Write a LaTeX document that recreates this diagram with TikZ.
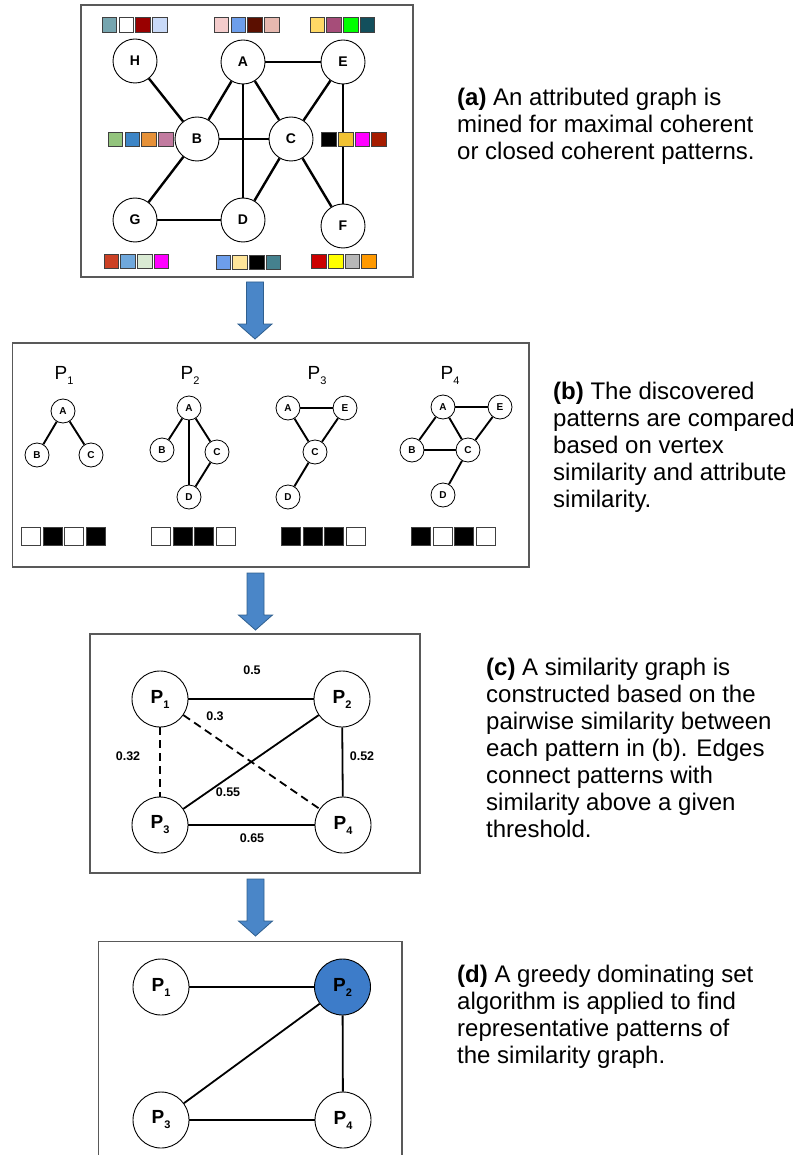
\documentclass[tikz,border=0pt]{standalone}
\usepackage{fontspec}
\setmainfont{Liberation Sans}

\definecolor{framegray}{HTML}{595959}
\definecolor{arrowblue}{HTML}{4A86C8}
\definecolor{arrowedge}{HTML}{2F5F8F}
\definecolor{domblue}{HTML}{3D7CC9}

% a row of colour swatches: left x, top y, width, height, step, list of HTML colours
\newcommand\swatchrow[6]{%
  \foreach \c [count=\i from 0] in {#6} {
    \definecolor{swatchfill}{HTML}{\c}
    \filldraw[swatch, fill=swatchfill] ({#1+\i*#5},#2) rectangle ++(#3,#4);
  }}

% a downward block arrow: centre x, shaft top, head base, tip
\newcommand\blockarrow[4]{%
  \filldraw[downarrow] ({#1-8.5},#2) -- ({#1+8.5},#2) -- ({#1+8.5},#3) -- ({#1+17},#3)
    -- (#1,#4) -- ({#1-17},#3) -- ({#1-8.5},#3) -- cycle;}

% pattern name with a lowered index
\newcommand\pname[1]{P\raisebox{-5pt}{\fontsize{11}{11}\selectfont #1}}

\begin{document}
\begin{tikzpicture}[x=1pt,y=-1pt,
  frame/.style={draw=framegray, line width=1.2pt},
  swatch/.style={draw=black!75, line width=0.7pt},
  gnode/.style={circle, draw=black, line width=0.9pt, fill=white, minimum size=44pt,
    inner sep=0pt, font=\bfseries\fontsize{14}{14}\selectfont},
  gedge/.style={line width=2.4pt},
  pnode/.style={circle, draw=black, line width=0.8pt, fill=white, minimum size=24pt,
    inner sep=0pt, font=\bfseries\fontsize{10}{10}\selectfont},
  pedge/.style={line width=1.9pt},
  ptitle/.style={font=\fontsize{19}{19}\selectfont, inner sep=0pt, anchor=base},
  snode/.style={circle, draw=black, line width=0.9pt, fill=white, minimum size=56pt,
    inner sep=0pt, font=\bfseries\fontsize{19}{19}\selectfont},
  sedge/.style={line width=1.8pt},
  weak/.style={sedge, dash pattern=on 8pt off 5pt},
  elabel/.style={font=\bfseries\fontsize{12.5}{12.5}\selectfont, inner sep=0pt},
  captext/.style={anchor=base west, inner sep=0pt, font=\fontsize{24}{27}\selectfont},
  downarrow/.style={fill=arrowblue, draw=arrowedge, line width=0.8pt}]

\useasboundingbox (0,0) rectangle (805,1155);

% ---------------- (a) attributed graph ----------------
\draw[frame] (81,5) rectangle (413,277);

\node[gnode] (H) at (135,61) {H};
\node[gnode] (A) at (243,62) {A};
\node[gnode] (E) at (343,62) {E};
\node[gnode] (B) at (197,139) {B};
\node[gnode] (C) at (291,139) {C};
\node[gnode] (G) at (135,220) {G};
\node[gnode] (D) at (243,220) {D};
\node[gnode] (F) at (343,226) {F};

\draw[gedge] (H) -- (B);
\draw[gedge] (A) -- (B);
\draw[gedge] (A) -- (D);
\draw[gedge] (A) -- (C);
\draw[gedge] (A) -- (E);
\draw[gedge] (B) -- (C);
\draw[gedge] (E) -- (C);
\draw[gedge] (E) -- (F);
\draw[gedge] (B) -- (G);
\draw[gedge] (G) -- (D);
\draw[gedge] (D) -- (C);
\draw[gedge] (C) -- (F);

\swatchrow{102.3}{17.5}{14.5}{14.5}{16.7}{76A5AF,FFFFFF,990000,C9DAF8}
\swatchrow{214.3}{17.5}{14.5}{14.5}{16.7}{F4CCCC,6D9EEB,5B0F00,E6B8AF}
\swatchrow{310}{17.5}{14.5}{14.5}{16.7}{FFD966,A64D79,00FF00,134F5C}
\swatchrow{108.3}{132}{14.5}{14.5}{16.7}{93C47D,3D85C6,E69138,C27BA0}
\swatchrow{321.7}{132}{14.5}{14.5}{16.7}{000000,F1C232,FF00FF,A61C00}
\swatchrow{104}{254}{14.5}{14.5}{16.7}{CC4125,6FA8DC,D9EAD3,FF00FF}
\swatchrow{216}{255}{14.5}{14.5}{16.7}{6D9EEB,FFE599,000000,45818E}
\swatchrow{311.7}{254}{14.5}{14.5}{16.7}{CC0000,FFFF00,B7B7B7,FF9900}

\node[captext] (capa) at (457,106) {\parbox[t]{340pt}{\raggedright
  \textbf{(a)} An attributed graph is\\
  mined for maximal coherent\\
  or closed coherent patterns.}};

\blockarrow{255}{282}{324}{339}

% ---------------- (b) discovered patterns ----------------
\draw[frame] (12.7,343) rectangle (529,567);

\node[ptitle] (t1) at (64,379) {\pname{1}};
\node[ptitle] (t2) at (190,379) {\pname{2}};
\node[ptitle] (t3) at (317,379) {\pname{3}};
\node[ptitle] (t4) at (450,379) {\pname{4}};

% P1
\node[pnode] (p1a) at (63,411) {A};
\node[pnode] (p1b) at (37,455) {B};
\node[pnode] (p1c) at (91,455) {C};
\draw[pedge] (p1a) -- (p1b);
\draw[pedge] (p1a) -- (p1c);

% P2
\node[pnode] (p2a) at (189,408) {A};
\node[pnode] (p2b) at (162,450) {B};
\node[pnode] (p2c) at (217,452) {C};
\node[pnode] (p2d) at (189,497) {D};
\draw[pedge] (p2a) -- (p2b);
\draw[pedge] (p2a) -- (p2d);
\draw[pedge] (p2a) -- (p2c);
\draw[pedge] (p2c) -- (p2d);

% P3
\node[pnode] (p3a) at (288,408) {A};
\node[pnode] (p3e) at (345,408) {E};
\node[pnode] (p3c) at (315,452) {C};
\node[pnode] (p3d) at (288,497) {D};
\draw[pedge] (p3a) -- (p3e);
\draw[pedge] (p3a) -- (p3c);
\draw[pedge] (p3e) -- (p3c);
\draw[pedge] (p3c) -- (p3d);

% P4
\node[pnode] (p4a) at (443,407) {A};
\node[pnode] (p4e) at (500,407) {E};
\node[pnode] (p4b) at (412,450) {B};
\node[pnode] (p4c) at (468,450) {C};
\node[pnode] (p4d) at (443,495) {D};
\draw[pedge] (p4a) -- (p4e);
\draw[pedge] (p4a) -- (p4b);
\draw[pedge] (p4a) -- (p4c);
\draw[pedge] (p4b) -- (p4c);
\draw[pedge] (p4e) -- (p4c);
\draw[pedge] (p4c) -- (p4d);

\swatchrow{21.7}{527}{19}{18}{21.5}{FFFFFF,000000,FFFFFF,000000}
\swatchrow{151.7}{527}{19}{18}{21.5}{FFFFFF,000000,000000,FFFFFF}
\swatchrow{281.7}{527}{19}{18}{21.5}{000000,000000,000000,FFFFFF}
\swatchrow{411.7}{527}{19}{18}{21.5}{000000,FFFFFF,000000,FFFFFF}

\node[captext] (capb) at (553,399) {\parbox[t]{260pt}{\raggedright
  \textbf{(b)} The discovered\\
  patterns are compared\\
  based on vertex\\
  similarity and attribute\\
  similarity.}};

\blockarrow{255.5}{573}{615}{630}

% ---------------- (c) similarity graph ----------------
\draw[frame] (90,634) rectangle (420,873);

\node[snode] (c1) at (160,699) {\pname{1}};
\node[snode] (c2) at (342,699) {\pname{2}};
\node[snode] (c3) at (160,825) {\pname{3}};
\node[snode] (c4) at (343,825) {\pname{4}};

\draw[sedge] (c1) -- (c2);
\draw[weak] (c1) -- (c3);
\draw[weak] (c1) -- (c4);
\draw[sedge] (c3) -- (c2);
\draw[sedge] (c2) -- (c4);
\draw[sedge] (c3) -- (c4);

\node[elabel] (w12) at (252,670) {0.5};
\node[elabel] (w14) at (215,716) {0.3};
\node[elabel] (w13) at (128,756) {0.32};
\node[elabel] (w24) at (362,756) {0.52};
\node[elabel] (w23) at (228,792) {0.55};
\node[elabel] (w34) at (252,838) {0.65};

\node[captext] (capc) at (486,675) {\parbox[t]{320pt}{\raggedright
  \textbf{(c)} A similarity graph is\\
  constructed based on the\\
  pairwise similarity between\\
  each pattern in (b). Edges\\
  connect patterns with\\
  similarity above a given\\
  threshold.}};

\blockarrow{255.5}{879}{921}{936}

% ---------------- (d) dominating set ----------------
\draw[frame] (98.3,1162) -- (98.3,941.7) -- (402,941.7) -- (402,1162);

\node[snode] (d1) at (161,987) {\pname{1}};
\node[snode, fill=domblue] (d2) at (342.5,987) {\pname{2}};
\node[snode] (d3) at (161,1120) {\pname{3}};
\node[snode] (d4) at (343,1120) {\pname{4}};

\draw[sedge] (d1) -- (d2);
\draw[sedge] (d2) -- (d3);
\draw[sedge] (d2) -- (d4);
\draw[sedge] (d3) -- (d4);

\node[captext] (capd) at (457,982) {\parbox[t]{340pt}{\raggedright
  \textbf{(d)} A greedy dominating set\\
  algorithm is applied to find\\
  representative patterns of\\
  the similarity graph.}};

\end{tikzpicture}
\end{document}
